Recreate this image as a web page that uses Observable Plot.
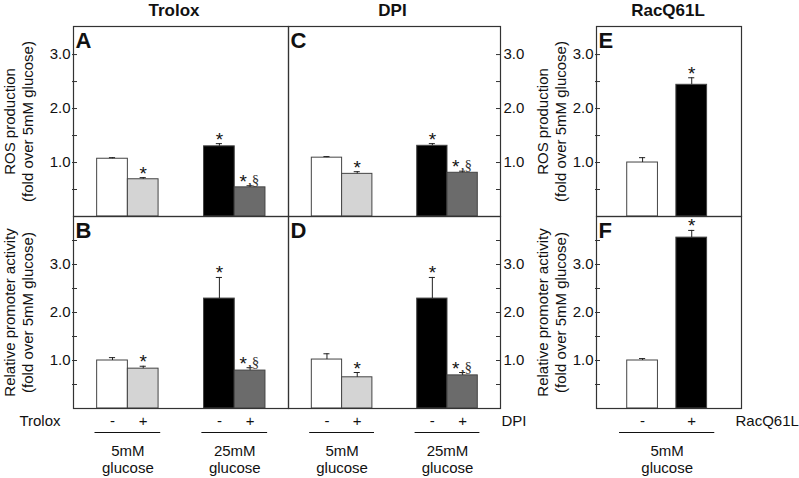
<!DOCTYPE html>
<html>
<head>
<meta charset="utf-8">
<script src="https://cdn.jsdelivr.net/npm/d3@7"></script>
<script src="https://cdn.jsdelivr.net/npm/@observablehq/plot@0.6"></script>
<style>
  html, body { margin: 0; padding: 0; background: white; }
  #chart { position: relative; width: 799px; height: 478px; overflow: hidden; background: white; font-family: "Liberation Sans", Arial, sans-serif; }
  #chart > div { position: absolute; }
</style>
</head>
<body>
<div id="chart"></div>
<script>
// ---------------- data ----------------
const columnTitles = ["Trolox", "DPI", "RacQ61L"];
const treatments = ["-", "+"];
const glucoseGroups = ["5mM\nglucose", "25mM\nglucose"];
const ylabelROS = "ROS production\n(fold over 5mM glucose)";
const ylabelProm = "Relative promoter activity\n(fold over 5mM glucose)";

// order: 5mM -, 5mM +, 25mM -, 25mM +
const troloxROS      = [1.07, 0.69, 1.30, 0.54];
const troloxROSErr   = [0.02, 0.03, 0.05, 0.03];
const troloxProm     = [1.00, 0.83, 2.29, 0.79];
const troloxPromErr  = [0.06, 0.05, 0.44, 0.06];
const dpiROS         = [1.09, 0.79, 1.31, 0.81];
const dpiROSErr      = [0.02, 0.04, 0.04, 0.03];
const dpiProm        = [1.02, 0.65, 2.29, 0.69];
const dpiPromErr     = [0.12, 0.10, 0.44, 0.06];
const sig4           = ["", "*", "*", "*§"];
// RacQ61L: -, +
const racROS         = [1.00, 2.44];
const racROSErr      = [0.09, 0.13];
const racProm        = [1.00, 3.56];
const racPromErr     = [0.04, 0.15];
const sig2           = ["", "*"];

const ticksTop = [0.5, 1.0, 1.5, 2.0, 2.5, 3.0];
const ticksBottom = [0.5, 1.0, 1.5, 2.0, 2.5, 3.0, 3.5];

// ---------------- layout / style ----------------
const FONT = '"Liberation Sans", Arial, sans-serif';
const fills4 = ["white", "#d4d4d4", "black", "#6b6b6b"];
const fills2 = ["white", "black"];
const starts4 = [0.77, 1.77, 4.25, 5.25];
const starts2 = [1.0, 2.6];
const cols = [
  {left: 0,   width: 289, mL: 73, mR: 1,  xMax: 7,    axis: "left",  ylabDx: -55},
  {left: 288, width: 262, mL: 0,  mR: 50, xMax: 7,    axis: "right", ylabDx: 0},
  {left: 520, width: 279, mL: 76, mR: 58, xMax: 4.72, axis: "left",  ylabDx: -45}
];
const rowsDims = [
  {top: 0,   height: 216, mT: 26, mB: 0,  yMax: 3.52, ticks: ticksTop},
  {top: 216, height: 262, mT: 0,  mB: 70, yMax: 4.0,  ticks: ticksBottom}
];

function panel(ci, ri, cfg) {
  const c = cols[ci], r = rowsDims[ri];
  const frameW = c.width - c.mL - c.mR;
  const starts = cfg.values.length === 4 ? starts4 : starts2;
  const fills = cfg.values.length === 4 ? fills4 : fills2;
  const data = cfg.values.map((v, i) => ({
    v, e: cfg.errs[i], sig: cfg.sigs[i], fill: fills[i],
    x1: starts[i], x2: starts[i] + 1, mid: starts[i] + 0.5,
    sign: treatments[i % 2], group: cfg.values.length === 4 ? Math.floor(i / 2) : 0
  }));
  const tickInset = c.axis === "left"
    ? {insetLeft: -1, insetRight: frameW - 4}
    : {insetLeft: frameW - 4, insetRight: -1};
  const starOpts = {x: "mid", y: d => d.v + d.e, text: () => "*", lineAnchor: "bottom", textAnchor: "middle", dy: 2, fontSize: 19, fill: "#111"};
  const marks = [
    Plot.rectY(data, {x1: "x1", x2: "x2", y: "v", fill: "fill", stroke: "#444", strokeWidth: 1}),
    Plot.ruleX(data, {x: "mid", y1: "v", y2: d => d.v + d.e, stroke: "#222", strokeWidth: 1}),
    Plot.ruleY(data, {y: d => d.v + d.e, x1: d => d.mid - 0.1, x2: d => d.mid + 0.1, stroke: "#222", strokeWidth: 1}),
    Plot.text(data.filter(d => d.sig === "*"), {...starOpts, dx: 0}),
    Plot.text(data.filter(d => d.sig === "*§"), {...starOpts, dx: -7}),
    Plot.text(data.filter(d => d.sig.includes("§")), {
      x: "mid", y: d => d.v + d.e, text: () => ",§", lineAnchor: "bottom", textAnchor: "start",
      dy: -1, dx: -2, fontSize: 15, fontFamily: '"Liberation Serif", "Times New Roman", serif', fill: "#333"
    }),
    Plot.frame({stroke: "#333", strokeWidth: 1.2}),
    Plot.tickY(r.ticks, {y: d => d, stroke: "#333", strokeWidth: 1, ...tickInset}),
    Plot.axisY(r.ticks, {
      anchor: c.axis, label: null, tickSize: 0, tickPadding: 3,
      tickFormat: d => Number.isInteger(d) ? d.toFixed(1) : "", fontSize: 15, fill: "#111"
    }),
    Plot.text([cfg.letter], {
      text: d => d, frameAnchor: "top-left", dx: 2, dy: 6, lineAnchor: "top", textAnchor: "start",
      fontSize: 22, fontWeight: "bold", fill: "#111"
    })
  ];
  if (cfg.ylabel) {
    marks.push(Plot.text([cfg.ylabel], {
      text: d => d, frameAnchor: "left", dx: c.ylabDx, rotate: -90, lineAnchor: "middle",
      textAnchor: "middle", lineHeight: 1.2, fontSize: 15, fill: "#111"
    }));
  }
  if (ri === 0) {
    marks.push(Plot.text([columnTitles[ci]], {
      text: d => d, frameAnchor: "top", dx: cfg.titleDx, dy: -11, lineAnchor: "bottom",
      textAnchor: "middle", fontSize: 17, fontWeight: "bold", fill: "#111"
    }));
  } else {
    // treatment signs
    marks.push(Plot.text(data, {x: "mid", text: "sign", frameAnchor: "bottom", dy: 13, lineAnchor: "middle", textAnchor: "middle", fontSize: 15, fill: "#111"}));
    // row label
    marks.push(Plot.text([columnTitles[ci]], {
      text: d => d, frameAnchor: cfg.rowLabelAnchor, dx: cfg.rowLabelDx, dy: 13, lineAnchor: "middle",
      textAnchor: cfg.rowLabelText, fontSize: 15, fill: "#111"
    }));
    // group underline & label
    const groups = d3.groups(data, d => d.group).map(([g, ds]) => ({
      label: glucoseGroups[g],
      x1: d3.min(ds, d => d.x1) - cfg.ext, x2: d3.max(ds, d => d.x2) + cfg.ext,
      cx: (d3.min(ds, d => d.x1) + d3.max(ds, d => d.x2)) / 2
    }));
    marks.push(Plot.ruleY(groups, {y: () => 0, x1: "x1", x2: "x2", dy: 24, stroke: "#111", strokeWidth: 1}));
    marks.push(Plot.text(groups, {x: "cx", y: () => 0, text: "label", dy: 35, lineAnchor: "top", textAnchor: "middle", lineHeight: 1.15, fontSize: 15, fill: "#111"}));
  }
  const svg = Plot.plot({
    width: c.width, height: r.height,
    marginLeft: c.mL, marginRight: c.mR, marginTop: r.mT, marginBottom: r.mB,
    x: {domain: [0, c.xMax], axis: null},
    y: {domain: [0, r.yMax], axis: null},
    color: {type: "identity"},
    style: {background: "transparent", overflow: "visible", fontFamily: FONT, fontSize: "15px", color: "#111"},
    marks
  });
  const div = document.createElement("div");
  div.style.left = c.left + "px";
  div.style.top = r.top + "px";
  div.appendChild(svg);
  document.getElementById("chart").appendChild(div);
}

panel(0, 0, {values: troloxROS, errs: troloxROSErr, sigs: sig4, letter: "A", ylabel: ylabelROS, titleDx: -7});
panel(0, 1, {values: troloxProm, errs: troloxPromErr, sigs: sig4, letter: "B", ylabel: ylabelProm,
  rowLabelAnchor: "bottom-left", rowLabelDx: -13, rowLabelText: "end", ext: 0.07});
panel(1, 0, {values: dpiROS, errs: dpiROSErr, sigs: sig4, letter: "C", titleDx: -2});
panel(1, 1, {values: dpiProm, errs: dpiPromErr, sigs: sig4, letter: "D",
  rowLabelAnchor: "bottom-right", rowLabelDx: 1, rowLabelText: "start", ext: 0.07});
panel(2, 0, {values: racROS, errs: racROSErr, sigs: sig2, letter: "E", ylabel: ylabelROS, titleDx: -1});
panel(2, 1, {values: racProm, errs: racPromErr, sigs: sig2, letter: "F", ylabel: ylabelProm,
  rowLabelAnchor: "bottom-right", rowLabelDx: -6, rowLabelText: "start", ext: 0.25});
</script>
</body>
</html>
